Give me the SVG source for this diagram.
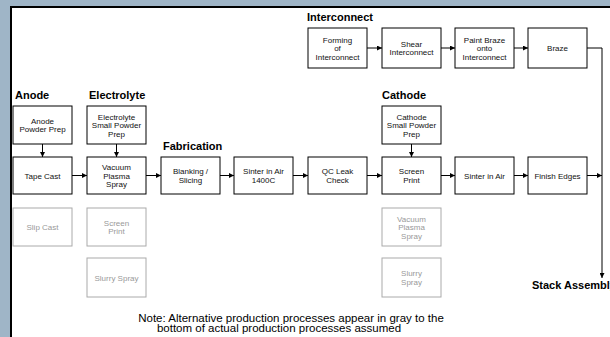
<svg xmlns="http://www.w3.org/2000/svg" width="610" height="337" viewBox="0 0 610 337">
<defs>
<marker id="ah" markerUnits="userSpaceOnUse" markerWidth="5" markerHeight="5" refX="5" refY="2.5" orient="auto">
<path d="M0,0 L5,2.5 L0,5 Z" fill="#000"/>
</marker>
<style>
.box{fill:#fff;stroke:#000;stroke-width:1}
.gbox{fill:#fff;stroke:#aaa;stroke-width:1}
.t{font-family:"Liberation Sans",Arial,sans-serif;font-size:8px;fill:#111;text-anchor:middle}
.g{font-family:"Liberation Sans",Arial,sans-serif;font-size:8px;fill:#999;text-anchor:middle}
.h{font-family:"Liberation Sans",Arial,sans-serif;font-size:11px;font-weight:bold;fill:#000}
.n{font-family:"Liberation Sans",Arial,sans-serif;font-size:11.5px;fill:#000;text-anchor:middle}
.c{fill:none;stroke:#000;stroke-width:1}
.a{fill:none;stroke:#000;stroke-width:1;marker-end:url(#ah)}
</style>
</defs>
<rect x="0" y="0" width="610" height="337" fill="#9fb5c7"/>
<rect x="11" y="7" width="640" height="360" fill="#fff" stroke="#000" stroke-width="2"/>

<text class="h" x="307" y="21">Interconnect</text>
<text class="h" x="15" y="99">Anode</text>
<text class="h" x="89" y="99">Electrolyte</text>
<text class="h" x="163" y="150">Fabrication</text>
<text class="h" x="382" y="99">Cathode</text>

<g id="forming"><rect class="box" x="308" y="28" width="59" height="40"/><text class="t" x="337.5" y="42.5">Forming</text><text class="t" x="337.5" y="51">of</text><text class="t" x="337.5" y="59.5">Interconnect</text></g>
<g id="shear"><rect class="box" x="382" y="28" width="59" height="40"/><text class="t" x="411.5" y="46.75">Shear</text><text class="t" x="411.5" y="55.25">Interconnect</text></g>
<g id="paintbraze"><rect class="box" x="455" y="28" width="59" height="40"/><text class="t" x="484.5" y="42.5">Paint Braze</text><text class="t" x="484.5" y="51">onto</text><text class="t" x="484.5" y="59.5">Interconnect</text></g>
<g id="braze"><rect class="box" x="528" y="28" width="59" height="40"/><text class="t" x="557.5" y="51">Braze</text></g>

<g id="anodeprep"><rect class="box" x="13" y="106" width="59" height="38"/><text class="t" x="42.5" y="123.75">Anode</text><text class="t" x="42.5" y="132.25">Powder Prep</text></g>
<g id="electprep"><rect class="box" x="87" y="106" width="59" height="38"/><text class="t" x="116.5" y="119.5">Electrolyte</text><text class="t" x="116.5" y="128">Small Powder</text><text class="t" x="116.5" y="136.5">Prep</text></g>
<g id="cathprep"><rect class="box" x="382" y="106" width="59" height="38"/><text class="t" x="411.5" y="119.5">Cathode</text><text class="t" x="411.5" y="128">Small Powder</text><text class="t" x="411.5" y="136.5">Prep</text></g>

<g id="tapecast"><rect class="box" x="13" y="157" width="59" height="37"/><text class="t" x="42.5" y="178.5">Tape Cast</text></g>
<g id="vps"><rect class="box" x="87" y="157" width="59" height="37"/><text class="t" x="116.5" y="170">Vacuum</text><text class="t" x="116.5" y="178.5">Plasma</text><text class="t" x="116.5" y="187">Spray</text></g>
<g id="blanking"><rect class="box" x="161" y="157" width="59" height="37"/><text class="t" x="190.5" y="174.25">Blanking /</text><text class="t" x="190.5" y="182.75">Slicing</text></g>
<g id="sinter1400"><rect class="box" x="234" y="157" width="59" height="37"/><text class="t" x="263.5" y="174.25">Sinter in Air</text><text class="t" x="263.5" y="182.75">1400C</text></g>
<g id="qc"><rect class="box" x="308" y="157" width="59" height="37"/><text class="t" x="337.5" y="174.25">QC Leak</text><text class="t" x="337.5" y="182.75">Check</text></g>
<g id="screenprint"><rect class="box" x="382" y="157" width="59" height="37"/><text class="t" x="411.5" y="174.25">Screen</text><text class="t" x="411.5" y="182.75">Print</text></g>
<g id="sinter"><rect class="box" x="455" y="157" width="59" height="37"/><text class="t" x="484.5" y="178.5">Sinter in Air</text></g>
<g id="finish"><rect class="box" x="528" y="157" width="59" height="37"/><text class="t" x="557.5" y="178.5">Finish Edges</text></g>

<g id="slipcast"><rect class="gbox" x="13" y="208" width="59" height="38"/><text class="g" x="42.5" y="230">Slip Cast</text></g>
<g id="gscreen"><rect class="gbox" x="87" y="208" width="59" height="38"/><text class="g" x="116.5" y="225.75">Screen</text><text class="g" x="116.5" y="234.25">Print</text></g>
<g id="gslurry1"><rect class="gbox" x="87" y="258" width="59" height="39"/><text class="g" x="116.5" y="280.5">Slurry Spray</text></g>
<g id="gvps"><rect class="gbox" x="382" y="208" width="59" height="38"/><text class="g" x="411.5" y="221.5">Vacuum</text><text class="g" x="411.5" y="230">Plasma</text><text class="g" x="411.5" y="238.5">Spray</text></g>
<g id="gslurry2"><rect class="gbox" x="382" y="258" width="59" height="39"/><text class="g" x="411.5" y="276.25">Slurry</text><text class="g" x="411.5" y="284.75">Spray</text></g>

<g id="stack"><text class="h" x="532" y="289">Stack Assembly</text></g>

<g id="connectors">
<line class="a" x1="367" y1="48" x2="382" y2="48"/>
<line class="a" x1="441" y1="48" x2="455" y2="48"/>
<line class="a" x1="514" y1="48" x2="528" y2="48"/>
<polyline class="a" points="587,48 602,48 602,278"/>
<line class="a" x1="42.5" y1="144" x2="42.5" y2="157"/>
<line class="a" x1="116.5" y1="144" x2="116.5" y2="157"/>
<line class="a" x1="411.5" y1="144" x2="411.5" y2="157"/>
<line class="a" x1="72" y1="175.5" x2="87" y2="175.5"/>
<line class="a" x1="146" y1="175.5" x2="161" y2="175.5"/>
<line class="a" x1="220" y1="175.5" x2="234" y2="175.5"/>
<line class="a" x1="293" y1="175.5" x2="308" y2="175.5"/>
<line class="a" x1="367" y1="175.5" x2="382" y2="175.5"/>
<line class="a" x1="441" y1="175.5" x2="455" y2="175.5"/>
<line class="a" x1="514" y1="175.5" x2="528" y2="175.5"/>
<line class="a" x1="587" y1="175.5" x2="602" y2="175.5"/>
</g>

<text class="n" x="291" y="321.5">Note: Alternative production processes appear in gray to the</text>
<text class="n" x="279" y="332">bottom of actual production processes assumed</text>
</svg>
